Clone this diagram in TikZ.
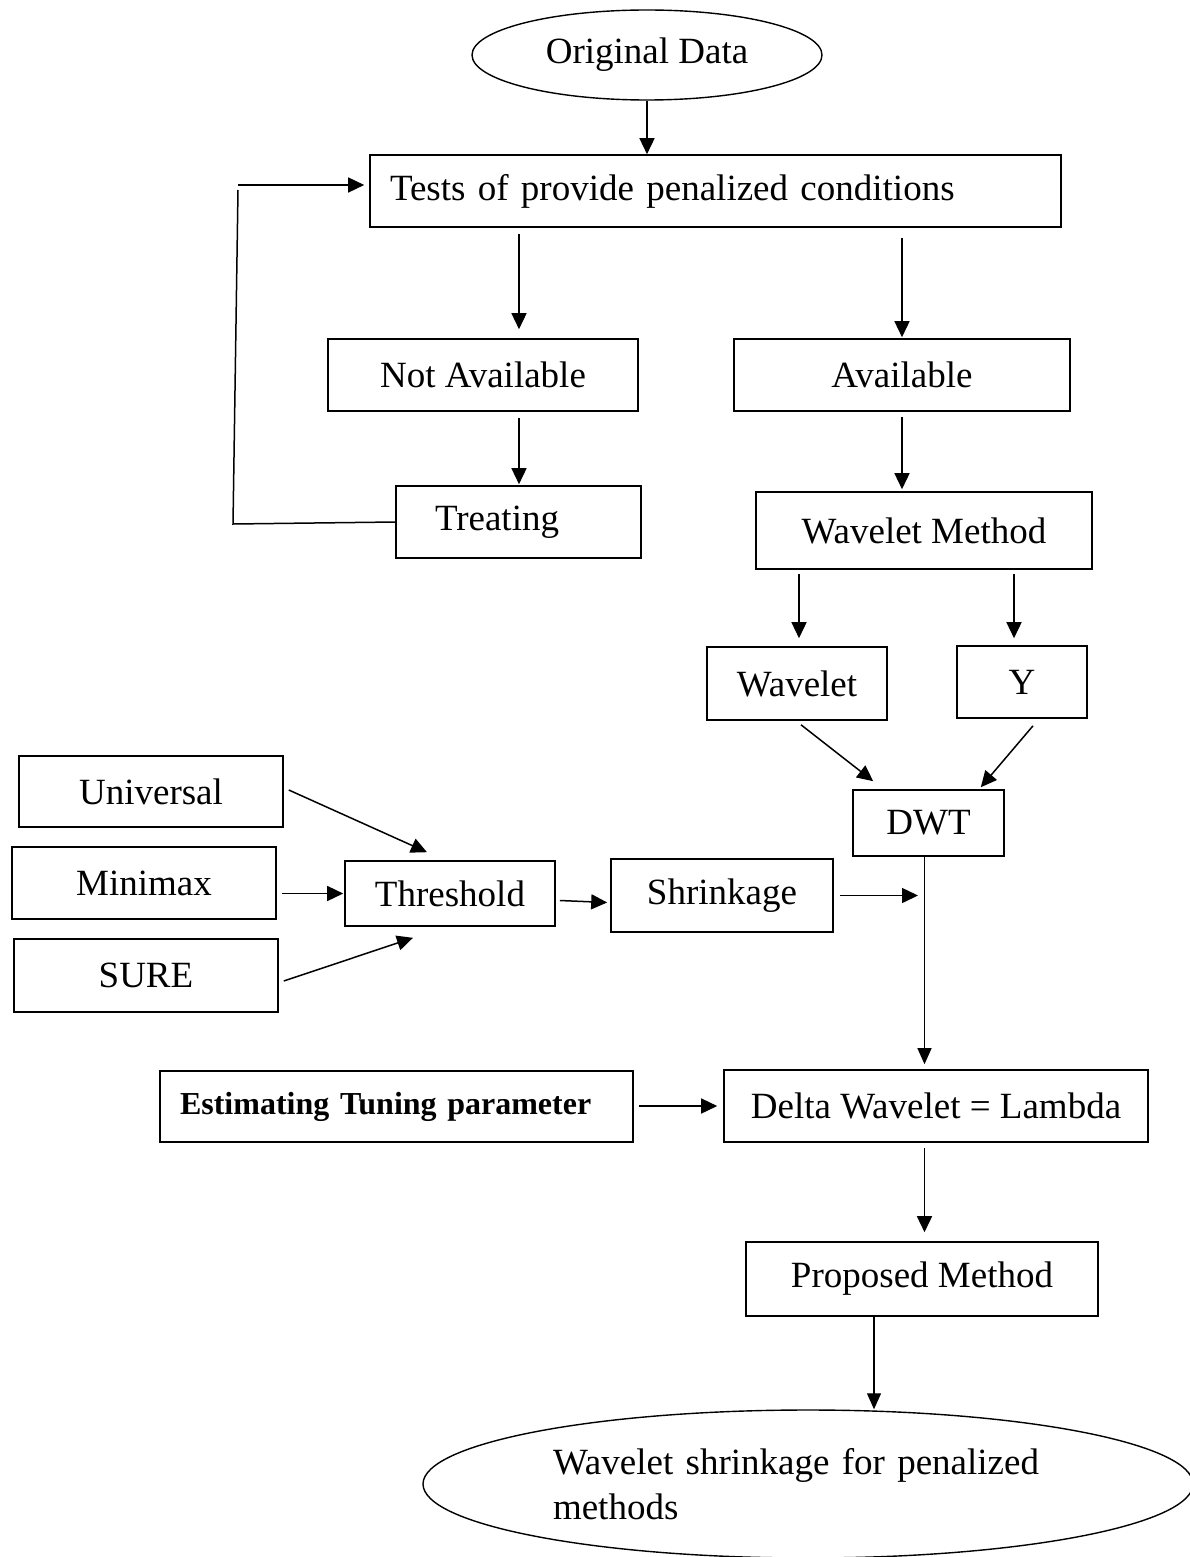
\documentclass[tikz,border=0pt]{standalone}
\usepackage{fontspec}
\setmainfont{Liberation Serif}
\usetikzlibrary{arrows.meta,shapes.geometric,calc}
\begin{document}
\begin{tikzpicture}[x=1pt,y=-1pt,
  txt/.style={font=\fontsize{37}{45}\selectfont},
  box/.style={draw, line width=1.6pt, inner sep=0pt, txt},
  oval/.style={draw, ellipse, line width=1.4pt, inner sep=0pt, txt},
  con/.style={line width=1.5pt},
  arr/.style={con, -{Triangle[length=16pt,width=15pt]}},
  arrthin/.style={line width=1.1pt, -{Triangle[length=16pt,width=14pt]}}]
\useasboundingbox (0,0) rectangle (1190,1557);
\clip (0,0) rectangle (1190,1557);

% nodes
\node[oval, minimum width=350pt, minimum height=90pt] (orig) at (647,55) {Original Data};
\node[box, minimum height=72pt, text width=651pt, inner xsep=20pt, align=left] (tests) at (715.5,191) {Tests of provide penalized conditions};
\node[box, minimum width=310pt, minimum height=72pt] (na) at (483,375) {Not Available};
\node[box, minimum width=336pt, minimum height=72pt] (avail) at (902,375) {Available};
\node[box, minimum height=72pt, text width=167pt, inner xsep=39pt, align=left] (treat) at (518.5,522) {Treating};
\node[box, minimum width=336pt, minimum height=77pt] (wm) at (924,530.5) {Wavelet Method};
\node[box, minimum width=180pt, minimum height=73pt] (wav) at (797,683.5) {Wavelet};
\node[box, minimum width=130pt, minimum height=72pt] (yy) at (1022,682) {Y};
\node[box, minimum width=151pt, minimum height=66pt] (dwt) at (928.5,823) {DWT};
\node[box, minimum width=264pt, minimum height=71pt] (univ) at (151,791.5) {Universal};
\node[box, minimum width=264pt, minimum height=72pt] (mini) at (144,883) {Minimax};
\node[box, minimum width=264pt, minimum height=73pt] (sure) at (146,975.5) {SURE};
\node[box, minimum width=210pt, minimum height=65pt] (thr) at (450,893.5) {Threshold};
\node[box, minimum width=222pt, minimum height=73pt] (shr) at (722,895.5) {Shrinkage};
\node[box, minimum height=71pt, text width=433pt, inner xsep=20pt, align=left, font=\fontsize{32}{38}\selectfont\bfseries] (est) at (396.5,1106.5) {Estimating Tuning parameter};
\node[box, minimum width=424pt, minimum height=72pt] (delta) at (936,1106) {Delta Wavelet = Lambda};
\node[box, minimum width=352pt, minimum height=74pt] (prop) at (922,1279) {Proposed Method};
\node[oval, minimum width=770pt, minimum height=148pt, text width=510pt, align=left] (final) at (808,1484) {Wavelet shrinkage for penalized\\methods};

% helper coordinates
\coordinate (c1) at (519,0);
\coordinate (c2) at (924.5,0);
\coordinate (c3) at (874,0);
\coordinate (c4) at (799,0);
\coordinate (c5) at (1014,0);
\coordinate (fbA) at (233,524);
\coordinate (fbB) at (238,190);
\coordinate (fbC) at (238,185);

% connectors
\draw[arr] (orig.south) -- (orig.south |- tests.north);
\draw[arr, shorten <=6pt, shorten >=9pt] (tests.south -| c1) -- (na.north -| c1);
\draw[arr, shorten <=6pt, shorten >=1pt] (na.south -| c1) -- (treat.north -| c1);
\draw[con] (treat.west) -- (fbA) -- (fbB);
\draw[arr, shorten >=5pt] (fbC) -- (fbC -| tests.west);
\draw[arr, shorten <=10pt, shorten >=1pt] (tests.south -| avail.north) -- (avail.north);
\draw[arr, shorten <=5pt, shorten >=2pt] (avail.south) -- (avail.south |- wm.north);
\draw[arr, shorten <=4pt, shorten >=8pt] (wm.south -| c4) -- (wav.north -| c4);
\draw[arr, shorten <=4pt, shorten >=7pt] (wm.south -| c5) -- (yy.north -| c5);
\draw[arr] ([xshift=4pt,yshift=-4pt]wav.south) -- ([xshift=21pt,yshift=8pt]dwt.north west);
\draw[arr] ([xshift=11pt,yshift=-7pt]yy.south) -- ([xshift=-24pt,yshift=2pt]dwt.north east);
\draw[arrthin, shorten >=5pt] (dwt.south -| c2) -- (delta.north -| c2);
\draw[arr] ([xshift=5pt,yshift=1.5pt]univ.east) -- ([xshift=-23pt,yshift=8pt]thr.north);
\draw[arr, shorten <=5pt, shorten >=1pt] (mini.east |- thr.west) -- (thr.west);
\draw[arr] ([xshift=5pt,yshift=-5.5pt]sure.east) -- ([xshift=-37pt,yshift=-11pt]thr.south);
\draw[arr] ([xshift=4pt,yshift=-7pt]thr.east) -- ([xshift=-3pt,yshift=-7pt]shr.west);
\draw[arr, shorten <=6pt, shorten >=6.5pt] (shr.east) -- (shr.east -| c2);
\draw[arr, shorten <=5pt, shorten >=6pt] (est.east |- delta.west) -- (delta.west);
\draw[arr, shorten <=5pt, shorten >=9pt] (delta.south -| c2) -- (prop.north -| c2);
\draw[arrthin] (prop.south -| c3) -- (c3 |- final.north);
\end{tikzpicture}
\end{document}
